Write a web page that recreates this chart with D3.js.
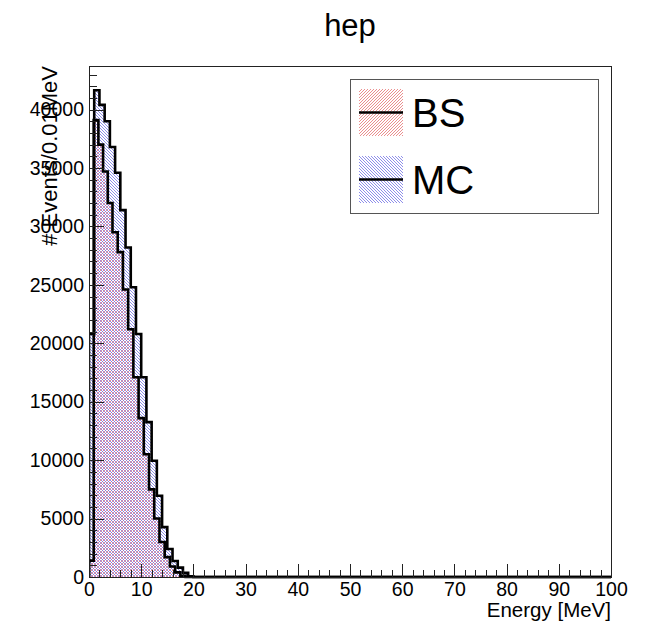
<!DOCTYPE html>
<html>
<head>
<meta charset="utf-8">
<script src="https://cdn.jsdelivr.net/npm/d3@7"></script>
<style>
  body { margin: 0; background: #fff; }
  svg text { font-family: "Liberation Sans", Arial, Helvetica, sans-serif; fill: #000; }
</style>
</head>
<body>
<div id="chart"></div>
<script>
// histogram data (counts per bin, bin edges in MeV)
const mcEdges = [0, 1, 2, 3, 4, 5, 6, 7, 8, 9, 10, 11, 12, 13, 14, 15, 16, 17, 18, 19, 20]
const mcCounts = [20800, 41650, 40400, 39000, 36800, 34600, 31400, 28200, 24800, 20800,
                  17100, 13250, 9950, 6950, 4270, 2400, 1370, 800, 350, 60]
const bsEdges = [0, 0.9, 1.8, 2.7, 3.6, 4.5, 5.5, 6.5, 7.5, 8.5, 9.5, 10.5, 11.5, 12.5,
                 13.5, 14.5, 15.5, 16.5, 17.5, 18.5, 19.5]
const bsCounts = [1400, 39100, 37000, 34700, 32000, 29500, 27800, 24600, 21200, 17100,
                  13600, 10500, 7500, 5000, 3000, 1700, 900, 400, 100, 0]
const xRange = [0, 100]
const yMax = 43730
const xMajorTicks = [0, 10, 20, 30, 40, 50, 60, 70, 80, 90, 100]
const yMajorTicks = [0, 5000, 10000, 15000, 20000, 25000, 30000, 35000, 40000]
const legendLabels = ['BS', 'MC']

function drawChart(){
    // 1. Dimensions
    let dimensions = {
        width: 645,
        height: 627,
        margin: { top: 66, right: 34, bottom: 50, left: 89 }
    }
    dimensions.boundedWidth = dimensions.width - dimensions.margin.left - dimensions.margin.right
    dimensions.boundedHeight = dimensions.height - dimensions.margin.top - dimensions.margin.bottom

    // 2. Canvas
    const wrapper = d3.select('#chart')
        .append('svg')
        .attr('width', dimensions.width)
        .attr('height', dimensions.height)

    const defs = wrapper.append('defs')
    // hatch patterns: red "///", blue "\\\"
    const hatch = (id, color, path) => {
        defs.append('pattern')
            .attr('id', id)
            .attr('patternUnits', 'userSpaceOnUse')
            .attr('width', 3)
            .attr('height', 3)
          .append('path')
            .attr('d', path)
            .attr('stroke', color)
            .attr('stroke-width', 0.8)
            .attr('fill', 'none')
    }
    hatch('hatchRed', '#e47272', 'M-1,1 L1,-1 M0,3 L3,0 M2,4 L4,2')
    hatch('hatchBlue', '#7272e4', 'M-1,2 L1,4 M0,0 L3,3 M2,-1 L4,1')

    defs.append('clipPath')
        .attr('id', 'plotClip')
      .append('rect')
        .attr('width', dimensions.boundedWidth)
        .attr('height', dimensions.boundedHeight + 3)
        .attr('y', -1)

    const bounds = wrapper.append('g')
        .attr('transform', `translate(${dimensions.margin.left},${dimensions.margin.top})`)

    // 3. Scales
    const xScale = d3.scaleLinear()
        .domain(xRange)
        .range([0, dimensions.boundedWidth])

    const yScale = d3.scaleLinear()
        .domain([0, yMax])
        .range([dimensions.boundedHeight, 0])

    // 4. Histograms
    const stepPoints = (edges, counts) => {
        const pts = [{ x: edges[0], y: 0 }]
        counts.forEach((c, i) => pts.push({ x: edges[i], y: c }))
        pts.push({ x: edges[edges.length - 1], y: 0 })
        pts.push({ x: xRange[1], y: 0 })
        return pts
    }

    const areaGenerator = d3.area()
        .curve(d3.curveStepAfter)
        .x(d => xScale(d.x))
        .y0(yScale(0))
        .y1(d => yScale(d.y))

    const lineGenerator = d3.line()
        .curve(d3.curveStepAfter)
        .x(d => xScale(d.x))
        .y(d => yScale(d.y))

    const hists = bounds.append('g').attr('clip-path', 'url(#plotClip)')

    const series = [
        { name: 'BS', edges: bsEdges, counts: bsCounts, fill: 'url(#hatchRed)' },
        { name: 'MC', edges: mcEdges, counts: mcCounts, fill: 'url(#hatchBlue)' }
    ]
    series.forEach(s => {
        hists.append('path')
            .attr('d', areaGenerator(stepPoints(s.edges, s.counts)))
            .attr('fill', s.fill)
    })
    series.forEach(s => {
        hists.append('path')
            .attr('d', lineGenerator(stepPoints(s.edges, s.counts)))
            .attr('fill', 'none')
            .attr('stroke', '#000')
            .attr('stroke-width', 2.6)
            .attr('stroke-linejoin', 'miter')
    })

    // 5. Axes
    const styleAxis = g => {
        g.select('.domain').remove()
        g.selectAll('line').attr('stroke', '#222').attr('shape-rendering', 'crispEdges')
        g.selectAll('text').style('font-size', '19.5px')
    }

    bounds.append('g')
        .attr('transform', `translate(0,${dimensions.boundedHeight})`)
        .call(d3.axisBottom(xScale).ticks(50).tickSize(-7).tickFormat(''))
        .call(styleAxis)

    bounds.append('g')
        .attr('transform', `translate(0,${dimensions.boundedHeight})`)
        .call(d3.axisBottom(xScale).tickValues(xMajorTicks).tickSize(-13).tickPadding(5).tickFormat(d3.format('d')))
        .call(styleAxis)

    bounds.append('g')
        .call(d3.axisLeft(yScale).tickValues(d3.range(0, yMax, 1000)).tickSize(-8).tickFormat(''))
        .call(styleAxis)

    bounds.append('g')
        .call(d3.axisLeft(yScale).tickValues(yMajorTicks).tickSize(-15).tickPadding(5).tickFormat(d3.format('d')))
        .call(styleAxis)

    // frame
    bounds.append('rect')
        .attr('width', dimensions.boundedWidth)
        .attr('height', dimensions.boundedHeight)
        .attr('fill', 'none')
        .attr('stroke', '#222')
        .attr('shape-rendering', 'crispEdges')

    // axis titles
    bounds.append('text')
        .attr('x', dimensions.boundedWidth)
        .attr('y', dimensions.boundedHeight + 40)
        .attr('text-anchor', 'end')
        .style('font-size', '20.5px')
        .text('Energy [MeV]')

    bounds.append('text')
        .attr('transform', `translate(${57 - dimensions.margin.left},0) rotate(-90)`)
        .attr('text-anchor', 'end')
        .style('font-size', '22px')
        .text('# Events/0.01MeV')

    // title
    wrapper.append('text')
        .attr('x', dimensions.margin.left + dimensions.boundedWidth / 2)
        .attr('y', 36)
        .attr('text-anchor', 'middle')
        .style('font-size', '31px')
        .text('hep')

    // 6. Legend
    const legend = wrapper.append('g').attr('transform', 'translate(350,79)')
    legend.append('rect')
        .attr('width', 248)
        .attr('height', 134)
        .attr('fill', '#fff')
        .attr('stroke', '#555')
        .attr('shape-rendering', 'crispEdges')

    const entries = legend.selectAll('g.entry')
        .data(series)
        .join('g')
        .attr('class', 'entry')
        .attr('transform', (d, i) => `translate(9,${10 + i * 67})`)
    entries.append('rect')
        .attr('width', 44)
        .attr('height', 47)
        .attr('fill', d => d.fill)
    entries.append('line')
        .attr('x1', 0).attr('x2', 44)
        .attr('y1', 23.5).attr('y2', 23.5)
        .attr('stroke', '#000')
        .attr('stroke-width', 2.6)
    entries.append('text')
        .attr('x', 53)
        .attr('y', 38)
        .style('font-size', '40px')
        .text((d, i) => legendLabels[i])
}

drawChart()
</script>
</body>
</html>
